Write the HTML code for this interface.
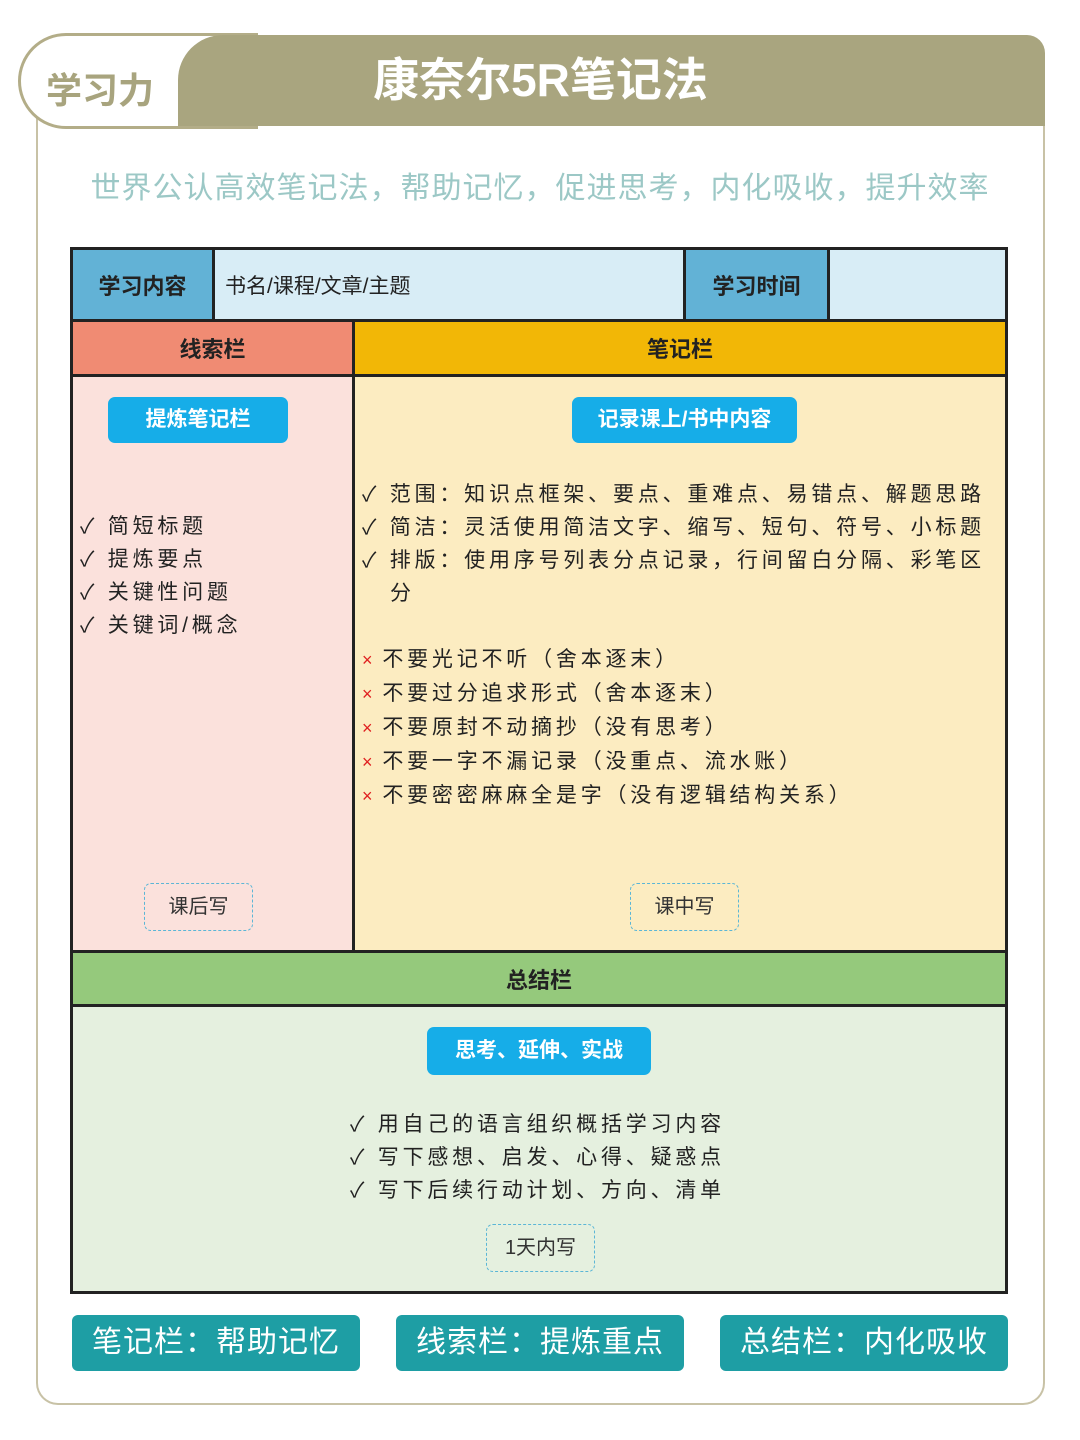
<!DOCTYPE html>
<html><head><meta charset="utf-8"><style>
*{margin:0;padding:0;box-sizing:border-box}
body{width:1080px;height:1440px;background:#fff;position:relative;font-family:"Liberation Sans","Noto Sans CJK SC",sans-serif;overflow:hidden}
.a{position:absolute}
.frame{left:36px;top:60px;width:1009px;height:1345px;border:2px solid #c8c2a6;border-radius:0 0 22px 22px;border-top:none}
.tab{left:18px;top:33px;width:240px;height:96px;border:3px solid #b3ad88;border-radius:48px 0 0 48px;background:#fff}
.tab span{position:absolute;left:25px;top:26px;font-size:36px;font-weight:bold;color:#a8a47e}
.title{left:178px;top:35px;width:867px;height:91px;background:#a9a57f;border-radius:45px 18px 0 0;color:#fff;font-size:46px;font-weight:bold;text-align:center;line-height:91px;padding-right:142px}
.sub{left:0;top:163px;width:1080px;text-align:center;font-size:30px;color:#9cc8c6;letter-spacing:1px}
.c{position:absolute;border:3px solid #222;}
.ct{display:flex;align-items:center;justify-content:center;font-size:22px;font-weight:bold;color:#222}
.btn{position:absolute;background:#16ade8;color:#fff;font-size:21px;font-weight:bold;border-radius:7px;text-align:center;line-height:46px;height:46px}
.dash{position:absolute;border:1.5px dashed #5bb6d6;border-radius:7px;font-size:20px;color:#333;text-align:center;line-height:46px;height:48px}
.list{position:absolute;font-size:21px;color:#222;line-height:33px;letter-spacing:3.8px;white-space:nowrap}
.x{color:#e02020;font-size:18px;margin-right:6px}
.bb{position:absolute;top:1315px;height:56px;width:288px;background:#1e9ea4;color:#fff;font-size:30px;text-align:center;line-height:56px;border-radius:6px;letter-spacing:1px}
</style></head><body>
<div class="a frame"></div>
<div class="a tab"><span>学习力</span></div>
<div class="a title">康奈尔5R笔记法</div>
<div class="a sub">世界公认高效笔记法，帮助记忆，促进思考，内化吸收，提升效率</div>

<div class="c ct" style="left:70px;top:247px;width:145px;height:75px;background:#62b2d6">学习内容</div>
<div class="c" style="left:212px;top:247px;width:474px;height:75px;background:#d8edf6;font-size:21px;color:#222;padding:20px 10px">书名/课程/文章/主题</div>
<div class="c ct" style="left:683px;top:247px;width:147px;height:75px;background:#62b2d6">学习时间</div>
<div class="c" style="left:827px;top:247px;width:181px;height:75px;background:#d8edf6"></div>

<div class="c ct" style="left:70px;top:319px;width:285px;height:58px;background:#f08b73">线索栏</div>
<div class="c ct" style="left:352px;top:319px;width:656px;height:58px;background:#f2b706">笔记栏</div>
<div class="c" style="left:70px;top:374px;width:285px;height:579px;background:#fbe1dc"></div>
<div class="c" style="left:352px;top:374px;width:656px;height:579px;background:#fcecc1"></div>
<div class="c ct" style="left:70px;top:950px;width:938px;height:57px;background:#95c97c">总结栏</div>
<div class="c" style="left:70px;top:1004px;width:938px;height:290px;background:#e5f0df"></div>

<div class="btn" style="left:108px;top:397px;width:180px">提炼笔记栏</div>
<div class="list" style="left:80px;top:510px">✓ 简短标题<br>✓ 提炼要点<br>✓ 关键性问题<br>✓ 关键词/概念</div>
<div class="dash" style="left:144px;top:883px;width:109px">课后写</div>

<div class="btn" style="left:572px;top:397px;width:225px">记录课上/书中内容</div>
<div class="list" style="left:362px;top:478px">✓ 范围：知识点框架、要点、重难点、易错点、解题思路<br>✓ 简洁：灵活使用简洁文字、缩写、短句、符号、小标题<br>✓ 排版：使用序号列表分点记录，行间留白分隔、彩笔区<br><span style="padding-left:28px">分</span></div>
<div class="list" style="left:362px;top:643px"><span class="x">×</span>不要光记不听（舍本逐末）<br><span class="x">×</span>不要过分追求形式（舍本逐末）<br><span class="x">×</span>不要原封不动摘抄（没有思考）<br><span class="x">×</span>不要一字不漏记录（没重点、流水账）<br><span class="x">×</span>不要密密麻麻全是字（没有逻辑结构关系）</div>
<div class="dash" style="left:630px;top:883px;width:109px">课中写</div>

<div class="btn" style="left:427px;top:1027px;width:224px;height:48px;line-height:48px">思考、延伸、实战</div>
<div class="list" style="left:350px;top:1108px">✓ 用自己的语言组织概括学习内容<br>✓ 写下感想、启发、心得、疑惑点<br>✓ 写下后续行动计划、方向、清单</div>
<div class="dash" style="left:486px;top:1224px;width:109px">1天内写</div>

<div class="bb" style="left:72px">笔记栏：帮助记忆</div>
<div class="bb" style="left:396px">线索栏：提炼重点</div>
<div class="bb" style="left:720px">总结栏：内化吸收</div>
</body></html>
